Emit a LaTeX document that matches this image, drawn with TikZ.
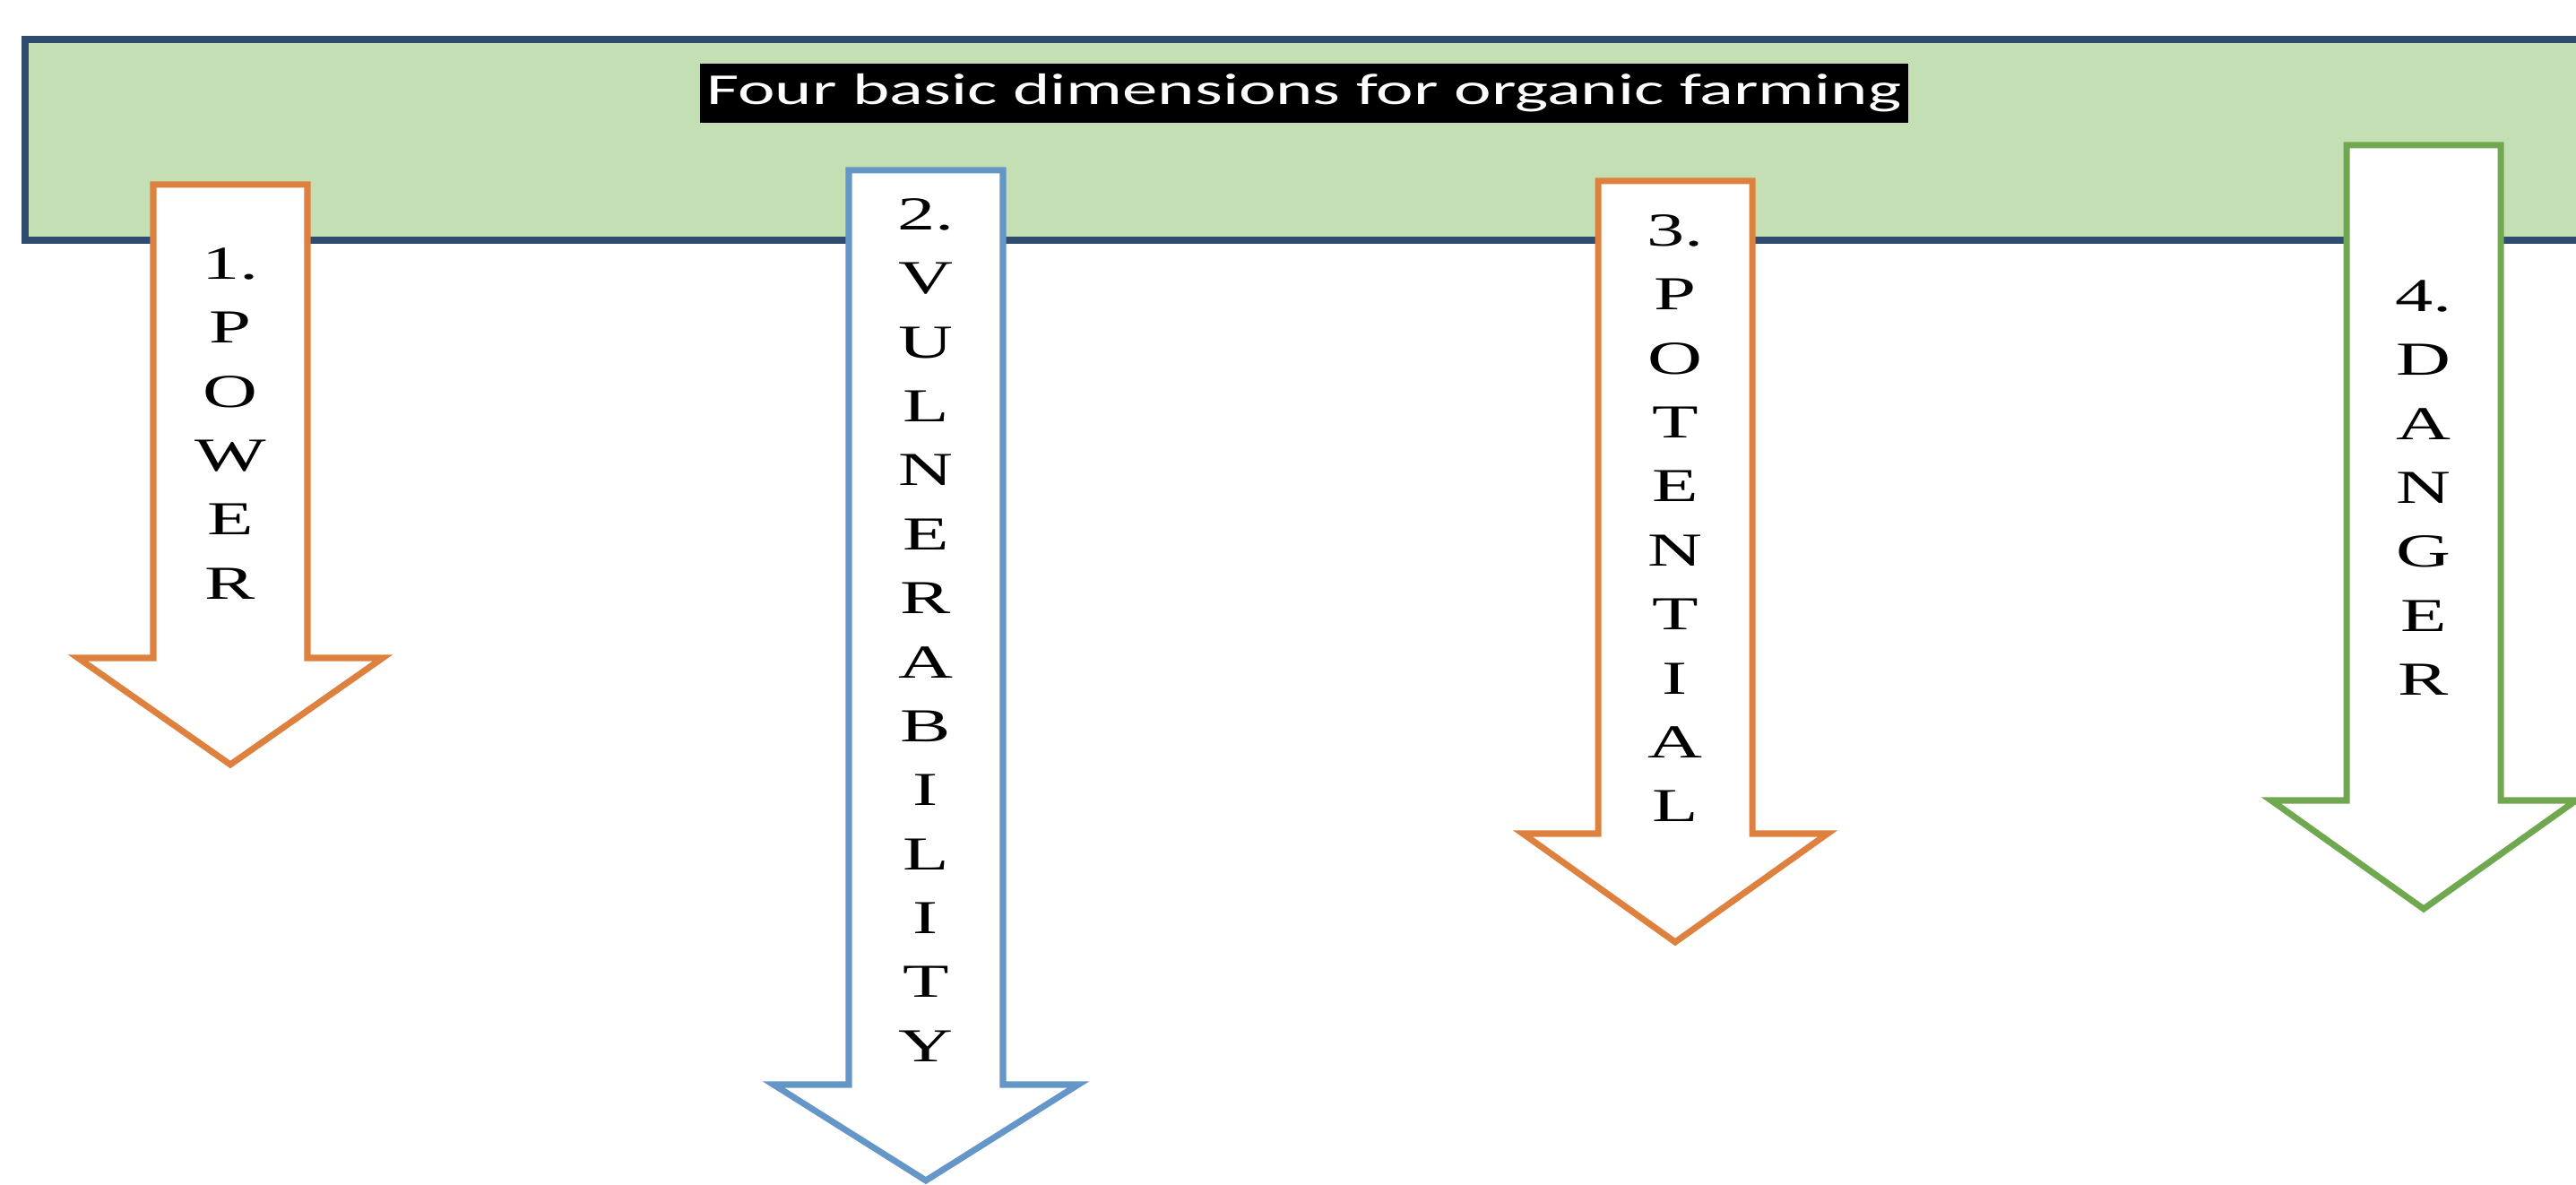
\documentclass[tikz,border=0pt]{standalone}
\usepackage{fontspec}
\usepackage{xcolor}
\usepackage{tikz}
\usetikzlibrary{positioning}

\newfontfamily\titlefont[FakeStretch=1.6]{Carlito}
\newfontfamily\arrowfont[FakeStretch=1.6]{Liberation Serif}

\begin{document}
\begin{tikzpicture}

% Define colors
\definecolor{bandfill}{RGB}{196,223,180}
\definecolor{bandline}{RGB}{47,75,110}
\definecolor{orangeline}{RGB}{222,128,62}
\definecolor{blueline}{RGB}{100,150,200}
\definecolor{greenline}{RGB}{112,168,80}

\tikzset{
  arrowbox/.style={line width=2pt, fill=white, line join=miter},
  arrowtext/.style={anchor=north, align=center, inner sep=0pt, text=black,
    font=\arrowfont\fontsize{15}{20.3}\selectfont}
}

\useasboundingbox (0,0) rectangle (28.74,13.22);
\clip (0,0) rectangle (28.74,13.22);

% Draw the green band
\draw[draw=bandline, line width=2.4pt, fill=bandfill] (0.28,10.54) rectangle (29.5,12.78);

% Title
\node[fill=black, text=white, inner xsep=2pt, minimum height=0.6cm,
  font=\titlefont\fontsize{14}{16}\selectfont] (title) at (14.55,12.18)
  {Four basic dimensions for organic farming};

% Arrow 1
\draw[arrowbox, draw=orangeline] (1.71,11.16) -- (3.43,11.16) -- (3.43,5.88) -- (4.27,5.88)
  -- (2.57,4.69) -- (0.87,5.88) -- (1.71,5.88) -- cycle;
\node[arrowtext] (power) at (2.57,10.46) {1.\\P\\O\\W\\E\\R};

% Arrow 2
\draw[arrowbox, draw=blueline] (9.47,11.32) -- (11.19,11.32) -- (11.19,1.12) -- (12.03,1.12)
  -- (10.33,0.05) -- (8.63,1.12) -- (9.47,1.12) -- cycle;
\node[arrowtext] (vulnerability) at (10.33,11.01)
  {2.\\V\\U\\L\\N\\E\\R\\A\\B\\I\\L\\I\\T\\Y};

% Arrow 3
\draw[arrowbox, draw=orangeline] (17.83,11.20) -- (19.55,11.20) -- (19.55,3.92) -- (20.39,3.92)
  -- (18.69,2.71) -- (16.99,3.92) -- (17.83,3.92) -- cycle;
\node[arrowtext] (potential) at (18.69,10.83) {3.\\P\\O\\T\\E\\N\\T\\I\\A\\L};

% Arrow 4
\draw[arrowbox, draw=greenline] (26.18,11.60) -- (27.90,11.60) -- (27.90,4.29) -- (28.74,4.29)
  -- (27.04,3.08) -- (25.34,4.29) -- (26.18,4.29) -- cycle;
\node[arrowtext] (danger) at (27.04,10.10) {4.\\D\\A\\N\\G\\E\\R};

\end{tikzpicture}
\end{document}
